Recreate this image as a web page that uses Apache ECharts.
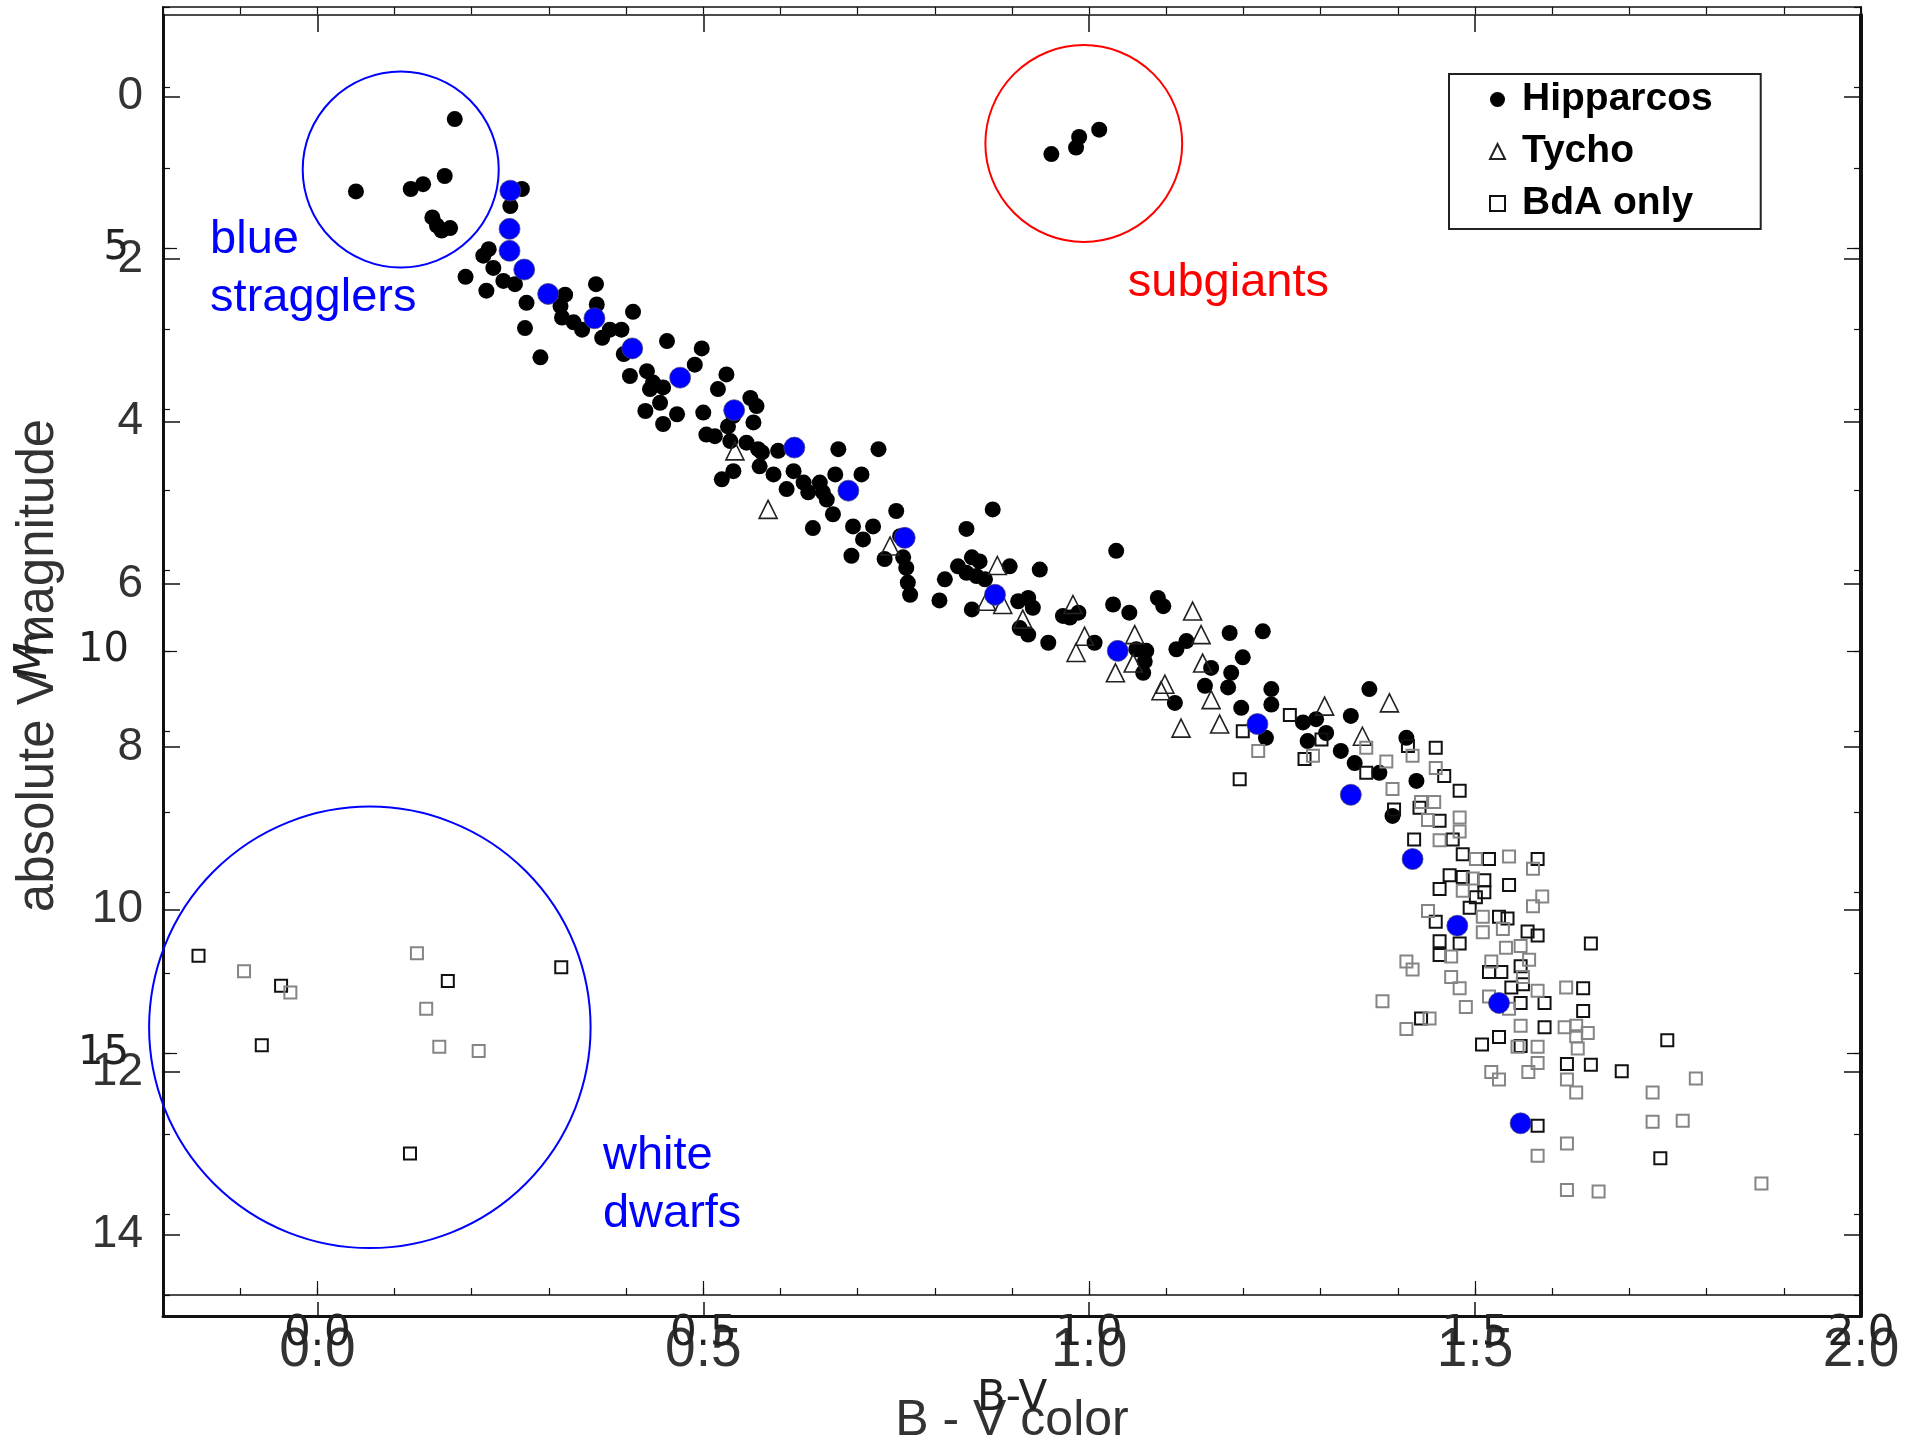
<!DOCTYPE html>
<html lang="en">
<head>
<meta charset="UTF-8">
<title>Hyades colour-magnitude diagram</title>
<style>
    html, body {
        margin: 0;
        padding: 0;
        background: #fff;
    }
    #main {
        width: 1916px;
        height: 1442px;
    }
</style>
</head>
<body>
<div id="main"></div>
<script src="https://cdn.jsdelivr.net/npm/echarts@6/dist/echarts.min.js"></script>
<script type="text/javascript">

// [B-V, absolute V magnitude]
var hipparcos = [
    [0.178, 0.28], [0.050, 1.17], [0.121, 1.14], [0.137, 1.08], [0.165, 0.98], [0.149, 1.49], [0.155, 1.59], [0.161, 1.65], [0.172, 1.62],
    [0.951, 0.71], [0.983, 0.63], [0.987, 0.50], [1.013, 0.41],
    [0.265, 1.14], [0.250, 1.35], [0.222, 1.88], [0.215, 1.96], [0.228, 2.11], [0.192, 2.22], [0.219, 2.39], [0.241, 2.27], [0.256, 2.31],
    [0.271, 2.54], [0.269, 2.85], [0.289, 3.21], [0.321, 2.44], [0.315, 2.58], [0.317, 2.72], [0.332, 2.78], [0.343, 2.87], [0.361, 2.31],
    [0.362, 2.56], [0.369, 2.97], [0.379, 2.87], [0.394, 2.87], [0.409, 2.65], [0.397, 3.17], [0.405, 3.44], [0.427, 3.38], [0.435, 3.52],
    [0.448, 3.58], [0.431, 3.60], [0.444, 3.77], [0.425, 3.87], [0.448, 4.03], [0.466, 3.91], [0.453, 3.01], [0.498, 3.10], [0.489, 3.30],
    [0.530, 3.42], [0.519, 3.60], [0.500, 3.89], [0.504, 4.16], [0.515, 4.18], [0.532, 4.06], [0.535, 4.24], [0.539, 3.93], [0.561, 3.71],
    [0.569, 3.81], [0.565, 4.01], [0.556, 4.26], [0.571, 4.34], [0.576, 4.38], [0.524, 4.71], [0.539, 4.61], [0.573, 4.55], [0.591, 4.65],
    [0.597, 4.36], [0.608, 4.83], [0.617, 4.61], [0.675, 4.34], [0.727, 4.34], [0.630, 4.75], [0.636, 4.87], [0.651, 4.75], [0.655, 4.87],
    [0.660, 4.96], [0.671, 4.65], [0.668, 5.14], [0.642, 5.31], [0.705, 4.65], [0.694, 5.29], [0.707, 5.45], [0.720, 5.29], [0.692, 5.65],
    [0.735, 5.69], [0.750, 5.10], [0.755, 5.41], [0.759, 5.67], [0.763, 5.80], [0.765, 5.98], [0.768, 6.13],
    [0.875, 5.08], [0.841, 5.32], [1.035, 5.59], [0.830, 5.78], [0.848, 5.67], [0.858, 5.72], [0.841, 5.86], [0.854, 5.90], [0.865, 5.94],
    [0.897, 5.78], [0.936, 5.82], [0.813, 5.94], [0.806, 6.20], [0.848, 6.31], [0.908, 6.21], [0.921, 6.17], [0.927, 6.29], [0.910, 6.54],
    [0.921, 6.62], [0.947, 6.72], [0.966, 6.39], [0.986, 6.35], [0.975, 6.41], [1.031, 6.25], [1.052, 6.35], [1.089, 6.17], [1.096, 6.27],
    [1.007, 6.72], [1.061, 6.80], [1.074, 6.82], [1.072, 6.95], [1.070, 7.09], [1.113, 6.80], [1.126, 6.70], [1.182, 6.60], [1.225, 6.58],
    [1.199, 6.90], [1.111, 7.46], [1.158, 7.03], [1.150, 7.25], [1.184, 7.09], [1.180, 7.27], [1.236, 7.29], [1.236, 7.48], [1.197, 7.52],
    [1.229, 7.89], [1.277, 7.70], [1.294, 7.66], [1.307, 7.83], [1.283, 7.93], [1.326, 8.05], [1.344, 8.20], [1.376, 8.32], [1.339, 7.62],
    [1.363, 7.29], [1.411, 7.89], [1.424, 8.42], [1.393, 8.85]
];

var tycho = [
    [0.541, 4.36], [0.584, 5.08], [0.742, 5.53], [0.881, 5.77], [0.867, 6.21], [0.888, 6.25], [0.914, 6.43], [0.979, 6.25],
    [0.994, 6.64], [0.983, 6.84], [1.059, 6.62], [1.034, 7.09], [1.057, 6.97], [1.134, 6.33], [1.145, 6.62], [1.098, 7.23],
    [1.093, 7.31], [1.147, 6.97], [1.158, 7.42], [1.119, 7.77], [1.169, 7.72], [1.305, 7.50], [1.389, 7.46], [1.354, 7.87]
];

// BdA only, drawn in black
var bdaDark = [
    [-0.154, 10.57], [-0.047, 10.94], [0.169, 10.88], [0.316, 10.71], [-0.072, 11.67], [0.120, 13.00],
    [1.199, 7.81], [1.195, 8.40], [1.260, 7.61], [1.301, 7.91], [1.279, 8.15], [1.359, 8.32], [1.413, 7.99], [1.395, 8.77],
    [1.421, 9.14], [1.449, 8.01], [1.460, 8.36], [1.480, 8.54], [1.428, 8.75], [1.454, 8.91], [1.471, 9.14], [1.484, 9.32],
    [1.518, 9.38], [1.581, 9.38], [1.467, 9.58], [1.484, 9.60], [1.512, 9.64], [1.544, 9.70], [1.454, 9.75], [1.501, 9.85],
    [1.512, 9.79], [1.493, 9.98], [1.449, 10.15], [1.531, 10.09], [1.542, 10.11], [1.568, 10.27], [1.581, 10.32], [1.650, 10.42],
    [1.454, 10.39], [1.480, 10.42], [1.454, 10.56], [1.518, 10.77], [1.534, 10.77], [1.559, 10.70], [1.547, 10.96], [1.562, 10.92],
    [1.640, 10.97], [1.559, 11.15], [1.590, 11.15], [1.640, 11.25], [1.430, 11.34], [1.590, 11.45], [1.749, 11.61], [1.531, 11.57],
    [1.509, 11.66], [1.559, 11.68], [1.619, 11.90], [1.650, 11.91], [1.690, 11.99], [1.581, 12.66], [1.740, 13.06]
];

// BdA only, drawn in grey
var bdaGray = [
    [-0.095, 10.76], [-0.035, 11.02], [0.129, 10.54], [0.141, 11.22], [0.158, 11.69], [0.209, 11.74],
    [1.219, 8.05], [1.290, 8.11], [1.359, 8.01], [1.385, 8.18], [1.393, 8.52], [1.419, 8.11], [1.449, 8.26], [1.430, 8.68],
    [1.447, 8.68], [1.480, 8.87], [1.480, 9.04], [1.439, 8.90], [1.454, 9.15], [1.501, 9.38], [1.544, 9.35], [1.575, 9.50],
    [1.497, 9.62], [1.484, 9.77], [1.587, 9.84], [1.575, 9.96], [1.439, 10.02], [1.510, 10.09], [1.510, 10.28], [1.536, 10.24],
    [1.469, 10.58], [1.411, 10.64], [1.419, 10.74], [1.521, 10.64], [1.540, 10.47], [1.559, 10.45], [1.570, 10.62], [1.562, 10.83],
    [1.469, 10.83], [1.480, 10.97], [1.518, 11.07], [1.581, 11.00], [1.618, 10.96], [1.380, 11.13], [1.488, 11.20], [1.544, 11.22],
    [1.441, 11.34], [1.411, 11.47], [1.559, 11.43], [1.616, 11.45], [1.631, 11.43], [1.646, 11.52], [1.631, 11.56], [1.555, 11.69],
    [1.581, 11.69], [1.633, 11.71], [1.581, 11.89], [1.521, 12.00], [1.531, 12.09], [1.569, 12.00], [1.619, 12.09], [1.631, 12.25],
    [1.730, 12.25], [1.786, 12.08], [1.730, 12.61], [1.769, 12.60], [1.619, 12.88], [1.581, 13.03], [1.619, 13.45], [1.660, 13.47],
    [1.871, 13.37]
];

// blue points along the main sequence
var blueSeq = [
    [0.250, 1.16], [0.249, 1.63], [0.249, 1.90], [0.268, 2.13], [0.299, 2.43], [0.359, 2.73], [0.408, 3.10], [0.470, 3.46],
    [0.540, 3.86], [0.618, 4.32], [0.688, 4.85], [0.761, 5.43], [0.878, 6.13], [1.037, 6.82], [1.218, 7.72], [1.339, 8.59],
    [1.419, 9.38], [1.477, 10.20], [1.531, 11.15], [1.559, 12.63]
];

var xTicks = [0, 0.5, 1, 1.5, 2];
var magTicks = [0, 2, 4, 6, 8, 10, 12, 14];
var mvTicks = [5, 10, 15];

// circled groups: centre [B-V, mag] and radius in B-V units
var rings = [
    { c: [0.108, 0.90], r: 0.127, color: '#0000ff' },
    { c: [0.993, 0.58], r: 0.1275, color: '#ff0000' },
    { c: [0.068, 11.45], r: 0.286, color: '#0000ff' }
];
var notes = [
    { text: 'blue\nstragglers', at: [-0.139, 2.13], color: '#0000ff' },
    { text: 'subgiants', at: [1.050, 2.30], color: '#ff0000' },
    { text: 'white\ndwarfs', at: [0.370, 13.39], color: '#0000ff' }
];

var sansA = '"Liberation Sans", Arial, sans-serif';
var sansB = '"DejaVu Sans", sans-serif';

var chart = echarts.init(document.getElementById('main'));

var option = {
    backgroundColor: '#fff',
    animation: false,
    grid: [
        { left: 163, right: 55, top: 15, bottom: 126, outerBoundsMode: 'none' },
        { left: 163, right: 55, top: 7, bottom: 147, outerBoundsMode: 'none' }
    ],
    legend: {
        data: ['Hipparcos', 'Tycho', 'BdA only'],
        orient: 'vertical',
        left: 1449,
        top: 74,
        padding: [6, 48, 6, 40],
        itemGap: 13,
        itemWidth: 15,
        itemHeight: 15,
        symbolKeepAspect: true,
        borderColor: '#222',
        borderWidth: 2,
        selectedMode: false,
        textStyle: {
            fontFamily: sansA, fontWeight: 'bold', fontSize: 39, color: '#000',
            padding: [0, 0, 0, 12]
        }
    },
    xAxis: [{
        // main plot, bottom
        gridIndex: 0, type: 'value', position: 'bottom', min: -0.2, max: 2, interval: 0.1,
        axisLine: { onZero: false, lineStyle: { color: '#111', width: 3 } },
        axisTick: { inside: true, length: 14, customValues: xTicks, lineStyle: { color: '#111', width: 1.5 } },
        axisLabel: {
            customValues: xTicks, margin: 7, fontSize: 55, fontFamily: sansA, color: '#333',
            formatter: function (v) { return v.toFixed(1); }
        },
        splitLine: { show: false },
        name: 'B - V color', nameLocation: 'middle', nameGap: 80,
        nameTextStyle: { fontSize: 50, fontFamily: sansA, color: '#333' }
    }, {
        gridIndex: 0, type: 'value', position: 'top', min: -0.2, max: 2, interval: 0.1,
        axisLine: { onZero: false, lineStyle: { color: '#111', width: 1.5 } },
        axisTick: { inside: true, length: 17, customValues: xTicks, lineStyle: { color: '#111', width: 1.5 } },
        axisLabel: { show: false },
        splitLine: { show: false }
    }, {
        // overlaid plot, bottom minor ticks + labels
        gridIndex: 1, type: 'value', position: 'bottom', min: -0.2, max: 2, interval: 0.1,
        axisLine: { onZero: false, lineStyle: { color: '#111', width: 1.5 } },
        axisTick: { inside: true, length: 7, lineStyle: { color: '#111', width: 1.2 } },
        axisLabel: {
            customValues: xTicks, margin: 18, fontSize: 42, fontFamily: sansB, color: '#222',
            formatter: function (v) { return v.toFixed(1); }
        },
        splitLine: { show: false },
        name: 'B-V', nameLocation: 'middle', nameGap: 83,
        nameTextStyle: { fontSize: 42, fontFamily: sansB, color: '#222' }
    }, {
        gridIndex: 1, type: 'value', position: 'bottom', min: -0.2, max: 2, interval: 0.1,
        axisLine: { show: false, onZero: false },
        axisTick: { inside: true, length: 14, customValues: xTicks, lineStyle: { color: '#111', width: 1.2 } },
        axisLabel: { show: false },
        splitLine: { show: false }
    }, {
        gridIndex: 1, type: 'value', position: 'top', min: -0.2, max: 2, interval: 0.1,
        axisLine: { onZero: false, lineStyle: { color: '#111', width: 1.5 } },
        axisTick: { inside: true, length: 7, lineStyle: { color: '#111', width: 1.2 } },
        axisLabel: { show: false },
        splitLine: { show: false }
    }],
    yAxis: [{
        gridIndex: 0, type: 'value', position: 'left', inverse: true, min: -1, max: 15, interval: 1,
        axisLine: { onZero: false, lineStyle: { color: '#111', width: 3 } },
        axisTick: { inside: true, length: 17, customValues: magTicks, lineStyle: { color: '#111', width: 1.5 } },
        axisLabel: { customValues: magTicks, margin: 20, fontSize: 46, fontFamily: sansA, color: '#333' },
        splitLine: { show: false },
        name: 'absolute V magnitude', nameLocation: 'middle', nameGap: 99,
        nameTextStyle: { fontSize: 51, fontFamily: sansA, color: '#333' }
    }, {
        gridIndex: 0, type: 'value', position: 'right', inverse: true, min: -1, max: 15, interval: 1,
        axisLine: { onZero: false, lineStyle: { color: '#111', width: 4 } },
        axisTick: { inside: true, length: 17, customValues: magTicks, lineStyle: { color: '#111', width: 1.5 } },
        axisLabel: { show: false },
        splitLine: { show: false }
    }, {
        gridIndex: 1, type: 'value', position: 'left', inverse: true, min: 2, max: 18, interval: 1,
        axisLine: { onZero: false, lineStyle: { color: '#111', width: 2 } },
        axisTick: { inside: true, length: 7, lineStyle: { color: '#111', width: 1.2 } },
        axisLabel: { customValues: mvTicks, margin: 34, fontSize: 40, fontFamily: sansB, color: '#222' },
        splitLine: { show: false },
        name: '{m|M}{v|V}', nameLocation: 'middle', nameGap: 104,
        nameTextStyle: {
            rich: {
                m: { fontSize: 44, fontFamily: sansB, fontStyle: 'italic', color: '#222' },
                v: { fontSize: 30, fontFamily: sansB, fontStyle: 'italic', color: '#222', padding: [18, 0, 0, 0] }
            }
        }
    }, {
        gridIndex: 1, type: 'value', position: 'left', inverse: true, min: 2, max: 18, interval: 1,
        axisLine: { show: false, onZero: false },
        axisTick: { inside: true, length: 14, customValues: mvTicks, lineStyle: { color: '#111', width: 1.2 } },
        axisLabel: { show: false },
        splitLine: { show: false }
    }, {
        gridIndex: 1, type: 'value', position: 'right', inverse: true, min: 2, max: 18, interval: 1,
        axisLine: { onZero: false, lineStyle: { color: '#111', width: 2 } },
        axisTick: { inside: true, length: 7, lineStyle: { color: '#111', width: 1.2 } },
        axisLabel: { show: false },
        splitLine: { show: false }
    }, {
        gridIndex: 1, type: 'value', position: 'right', inverse: true, min: 2, max: 18, interval: 1,
        axisLine: { show: false, onZero: false },
        axisTick: { inside: true, length: 14, customValues: mvTicks, lineStyle: { color: '#111', width: 1.2 } },
        axisLabel: { show: false },
        splitLine: { show: false }
    }],
    series: [{
        name: 'Hipparcos', type: 'scatter', xAxisIndex: 0, yAxisIndex: 0,
        data: hipparcos, symbol: 'circle', symbolSize: 16, z: 2, silent: true,
        itemStyle: { color: '#000', opacity: 1 }
    }, {
        name: 'Tycho', type: 'scatter', xAxisIndex: 0, yAxisIndex: 0,
        data: tycho, symbol: 'triangle', symbolSize: 18, z: 3, silent: true,
        itemStyle: { color: 'rgba(255,255,255,0)', borderColor: '#222', borderWidth: 1.6, opacity: 1 }
    }, {
        name: 'BdA only', type: 'scatter', xAxisIndex: 0, yAxisIndex: 0,
        data: bdaDark, symbol: 'rect', symbolSize: 12, z: 4, silent: true,
        itemStyle: { color: 'rgba(255,255,255,0)', borderColor: '#111', borderWidth: 2, opacity: 1 }
    }, {
        name: 'BdA only', type: 'scatter', xAxisIndex: 0, yAxisIndex: 0,
        data: bdaGray, symbol: 'rect', symbolSize: 12, z: 4, silent: true,
        itemStyle: { color: 'rgba(255,255,255,0)', borderColor: '#858585', borderWidth: 2, opacity: 1 }
    }, {
        name: 'sequence', type: 'scatter', xAxisIndex: 0, yAxisIndex: 0,
        data: blueSeq, symbol: 'circle', symbolSize: 21, z: 5, silent: true,
        itemStyle: { color: '#0000ff', borderColor: 'rgba(70,70,110,0.7)', borderWidth: 1, opacity: 1 }
    }]
};

chart.setOption(option);

// circles and notes, placed in data units through the main grid
function placeNotes() {
    var g = [];
    rings.forEach(function (ring) {
        var p = chart.convertToPixel({ gridIndex: 0 }, ring.c);
        var q = chart.convertToPixel({ gridIndex: 0 }, [ring.c[0] + ring.r, ring.c[1]]);
        g.push({
            type: 'circle', silent: true, z: 10,
            shape: { cx: p[0], cy: p[1], r: q[0] - p[0] },
            style: { fill: 'none', stroke: ring.color, lineWidth: 2 }
        });
    });
    notes.forEach(function (n) {
        var p = chart.convertToPixel({ gridIndex: 0 }, n.at);
        g.push({
            type: 'text', silent: true, z: 10, x: p[0], y: p[1],
            style: {
                text: n.text, fill: n.color, font: '47px ' + sansA, lineHeight: 58,
                align: 'left', verticalAlign: 'middle', textAlign: 'left', textVerticalAlign: 'middle'
            }
        });
    });
    chart.setOption({ graphic: g });
}
placeNotes();
</script>
</body>
</html>
